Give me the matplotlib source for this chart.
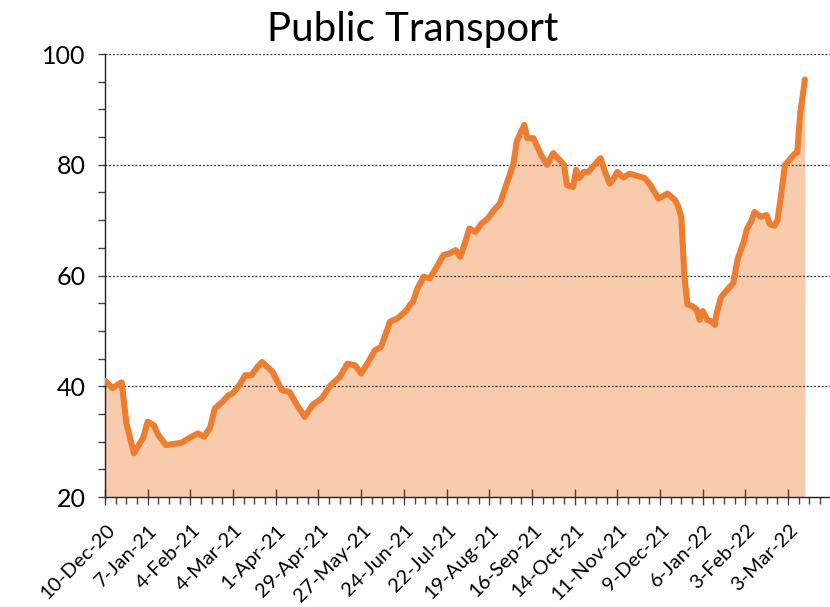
import matplotlib
matplotlib.use("Agg")
import matplotlib.pyplot as plt
from matplotlib.ticker import MultipleLocator
from matplotlib.transforms import ScaledTranslation
import pandas as pd

start_date = "2020-12-10"
day_offsets = [0, 5, 10, 11, 14, 19, 23, 25, 28, 32,
               35, 40, 45, 50, 56, 61, 65, 69, 72, 77,
               81, 84, 88, 92, 96, 100, 103, 110, 116, 121,
               126, 131, 136, 142, 148, 154, 159, 164, 168, 172,
               177, 181, 187, 192, 198, 200, 202, 205, 209, 213,
               217, 222, 226, 230, 233, 236, 239, 243, 247, 251,
               255, 259, 262, 266, 268, 270, 272, 275, 277, 281,
               286, 290, 294, 298, 301, 303, 307, 309, 311, 314,
               317, 321, 325, 328, 331, 333, 336, 340, 344, 349,
               354, 358, 363, 369, 374, 376, 378, 380, 382, 385,
               388, 390, 392, 395, 398, 400, 401, 404, 408, 412,
               415, 419, 421, 424, 426, 430, 434, 436, 439, 441,
               443, 446, 448, 452, 454, 456, 458, 459]
values = [41.0, 39.7, 40.6, 40.7, 33.4, 27.9, 29.8, 30.7, 33.6, 33.0,
          31.2, 29.4, 29.6, 29.8, 30.8, 31.5, 30.9, 32.6, 36.0, 37.2,
          38.4, 38.8, 40.2, 42.0, 42.0, 43.5, 44.4, 42.6, 39.3, 39.0,
          36.6, 34.5, 36.6, 37.8, 40.2, 41.7, 44.1, 43.8, 42.3, 44.1,
          46.5, 47.1, 51.7, 52.3, 53.8, 54.7, 55.3, 57.7, 59.8, 59.5,
          61.3, 63.7, 64.0, 64.6, 63.4, 65.8, 68.5, 67.9, 69.4, 70.3,
          71.8, 73.0, 75.4, 78.7, 80.3, 84.2, 85.4, 87.2, 84.8, 84.8,
          81.8, 80.0, 82.1, 80.9, 80.0, 76.3, 76.0, 79.1, 77.6, 78.7,
          78.7, 80.0, 81.2, 78.7, 76.6, 77.2, 78.7, 77.7, 78.4, 78.0,
          77.6, 76.2, 73.9, 74.8, 73.6, 72.4, 70.6, 59.9, 54.8, 54.5,
          53.9, 52.0, 53.6, 52.0, 51.7, 51.1, 53.0, 56.1, 57.4, 58.6,
          63.0, 66.2, 68.4, 69.9, 71.5, 70.6, 70.9, 69.3, 69.0, 69.9,
          73.7, 80.0, 80.6, 81.9, 82.2, 89.4, 93.2, 95.4]
tick_labels = ["10-Dec-20", "7-Jan-21", "4-Feb-21", "4-Mar-21", "1-Apr-21", "29-Apr-21",
               "27-May-21", "24-Jun-21", "22-Jul-21", "19-Aug-21", "16-Sep-21", "14-Oct-21",
               "11-Nov-21", "9-Dec-21", "6-Jan-22", "3-Feb-22", "3-Mar-22"]
y_ticks = [20, 40, 60, 80, 100]
title = "Public Transport"

font = ["Lato", "DejaVu Sans"]
plt.rcParams["font.family"] = font

t0 = pd.Timestamp(start_date)
dates = t0 + pd.to_timedelta(day_offsets, unit="D")
tick_dates = [t0 + pd.Timedelta(days=28 * i) for i in range(len(tick_labels))]
x_end = t0 + pd.Timedelta(days=475.5)

fig = plt.figure(figsize=(8.30, 6.07), dpi=100)
ax = fig.add_axes([0.1265, 0.181, 0.8735, 0.730])

ax.fill_between(dates, 20, values, color="#F8CBAD", linewidth=0, zorder=1)
ax.plot(dates, values, color="#ED7D31", linewidth=4.4, solid_joinstyle="round",
        solid_capstyle="round", zorder=3)

ax.set_yticks(y_ticks)
ax.yaxis.set_minor_locator(MultipleLocator(5))
ax.set_yticklabels([str(v) for v in y_ticks], fontsize=18)

ax.set_xticks(tick_dates)
ax.set_xticklabels(tick_labels, rotation=45, ha="right", rotation_mode="anchor", fontsize=14.5)
minor_dates = [t0 + pd.Timedelta(days=7 * i) for i in range(0, 68)]
ax.set_xticks(minor_dates, minor=True)

ax.set_ylim(20, 100)
ax.set_xlim(t0, x_end)

ax.tick_params(axis="x", which="major", direction="inout", length=11, width=1, color="#444444", pad=12)
ax.tick_params(axis="x", which="minor", direction="out", length=5, width=1, color="#444444")
ax.tick_params(axis="y", which="both", direction="out", length=5, width=1, color="#444444", pad=9)

offset = ScaledTranslation(1 / 100, 0, fig.dpi_scale_trans)
for lbl in ax.get_xticklabels():
    lbl.set_transform(lbl.get_transform() + offset)

for y in [40, 60, 80, 100]:
    ax.axhline(y, color="#333333", linestyle=(0, (1.5, 1.5)), linewidth=0.9, zorder=2)

for s in ["top", "right"]:
    ax.spines[s].set_visible(False)
for s in ["left", "bottom"]:
    ax.spines[s].set_color("#222222")
    ax.spines[s].set_linewidth(1.0)
ax.spines["bottom"].set_zorder(4)

fig.text(0.5 * (268 + 557) / 830, 1 - 29 / 607, title, ha="center", va="center", fontsize=29)

fig.savefig("out.png", dpi=100)
